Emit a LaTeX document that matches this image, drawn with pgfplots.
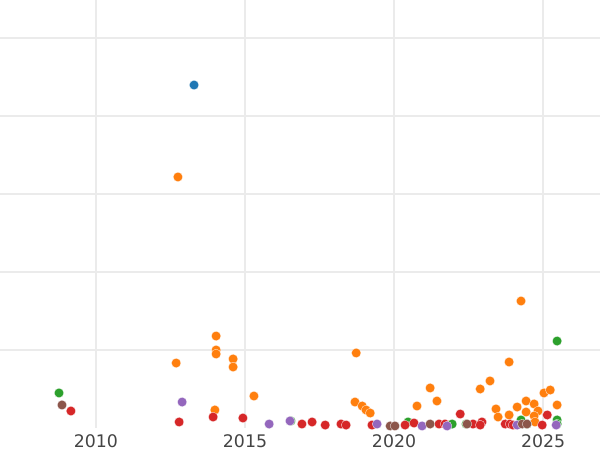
\documentclass[border=0pt]{standalone}
\usepackage{pgfplots}
\pgfplotsset{compat=1.18}
\usepackage{fontspec}
\setmainfont{DejaVu Sans}
\definecolor{tabblue}{HTML}{1F77B4}
\definecolor{taborange}{HTML}{FF7F0E}
\definecolor{tabgreen}{HTML}{2CA02C}
\definecolor{tabred}{HTML}{D62728}
\definecolor{tabpurple}{HTML}{9467BD}
\definecolor{tabbrown}{HTML}{8C564B}
\definecolor{gridgray}{HTML}{EBEBEB}
\definecolor{labelgray}{HTML}{444444}
\pgfplotsset{
  dot/.style={only marks, mark=*, mark size=3.6pt,
    mark options={fill=#1, draw=white, line width=0.2pt}}
}
\begin{document}
\begin{tikzpicture}
\begin{axis}[
  scale only axis, width=450pt, height=321pt,
  xmin=2006.78, xmax=2026.91, ymin=0, ymax=548.7,
  axis line style={draw=none},
  xtick={2010,2015,2020,2025}, xticklabels={2010,2015,2020,2025},
  ytick={100,200,300,400,500}, yticklabels={},
  major tick length=0pt,
  grid=major, grid style={color=gridgray, line width=0.9pt},
  tick label style={font=\fontsize{13}{15}\selectfont, text=labelgray},
  xticklabel style={anchor=base, yshift=-14.25pt},
  clip=true,
]
\coordinate (ll) at (rel axis cs:0,0);
\coordinate (ur) at (rel axis cs:1,1);
% blue
\addplot[dot=tabblue] coordinates {(2013.29,439.7)};
% orange
\addplot[dot=taborange] coordinates {
(2012.75,321.8) (2012.69,83.3) (2014.03,117.9) (2014.03,100) (2014.03,94.9)
(2014.60,88.5) (2014.60,78.2) (2013.99,23.1) (2015.30,41.0) (2018.73,96.2)
(2018.69,33.3) (2018.93,28.2) (2019.06,23.1) (2019.20,19.2) (2020.77,28.2)
(2021.21,51.3) (2021.44,34.6) (2022.89,50.0) (2023.22,60.3) (2023.42,24.4)
(2023.49,14.1) (2023.86,84.6) (2024.26,162.8) (2023.86,16.7) (2024.13,26.9)
(2024.43,34.6) (2024.43,20.5) (2024.70,30.8) (2024.83,21.8) (2024.70,15.4)
(2024.73,7.7) (2025.03,44.9) (2025.24,48.7) (2025.47,29.5)
};
% green
\addplot[dot=tabgreen] coordinates {
(2008.76,44.9) (2016.54,9.0) (2020.47,7.7) (2021.95,5.1) (2022.42,5.1)
(2024.26,10.3) (2024.46,5.1) (2025.47,111.5) (2025.47,10.3) (2025.47,5.1)
};
% red
\addplot[dot=tabred] coordinates {
(2009.16,21.8) (2012.79,7.7) (2013.93,14.1) (2014.93,12.8) (2016.91,5.1)
(2017.25,7.7) (2017.69,3.8) (2018.22,5.1) (2018.39,3.8) (2019.26,3.8)
(2020.37,3.8) (2020.67,6.4) (2021.51,5.1) (2021.71,5.1) (2022.22,17.9)
(2022.65,5.1) (2022.95,7.7) (2022.89,3.8) (2023.73,5.1) (2023.89,5.1)
(2023.99,3.8) (2024.97,3.8) (2025.14,16.7)
};
% purple
\addplot[dot=tabpurple] coordinates {
(2012.89,33.3) (2015.81,5.1) (2016.51,9.0) (2019.43,5.1) (2020.94,2.6)
(2021.78,2.6) (2024.13,3.8) (2025.44,3.8)
};
% brown
\addplot[dot=tabbrown] coordinates {
(2008.86,29.5) (2019.87,2.6) (2020.03,2.6) (2021.21,5.1) (2022.45,5.1)
(2024.30,5.1) (2024.46,5.1)
};
\end{axis}
\pgfresetboundingbox
\path[use as bounding box] ([yshift=-16.5pt]ll) rectangle (ur);
\end{tikzpicture}
\end{document}
